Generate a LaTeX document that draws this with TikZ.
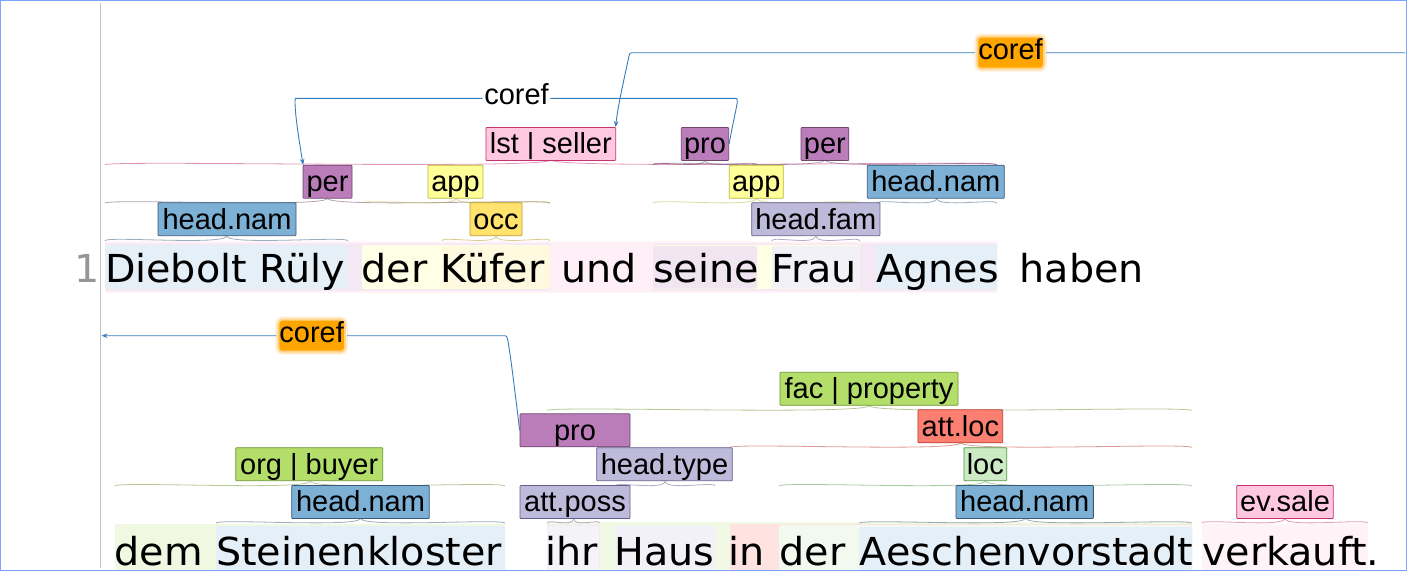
\documentclass[tikz,border=0pt]{standalone}
\usepackage{fontspec}
\setmainfont{DejaVu Sans}
\newfontfamily\wordfamily{DejaVu Sans}[FakeStretch=1.03]
\newfontfamily\labfamily{Liberation Sans}
\usetikzlibrary{arrows.meta}
\definecolor{perC}{RGB}{186,125,186}\definecolor{perD}{RGB}{110,70,110}
\definecolor{appC}{RGB}{255,255,153}\definecolor{appD}{RGB}{185,185,60}
\definecolor{occC}{RGB}{255,227,110}\definecolor{occD}{RGB}{185,155,40}
\definecolor{namC}{RGB}{125,176,213}\definecolor{namD}{RGB}{60,90,120}
\definecolor{famC}{RGB}{190,186,218}\definecolor{famD}{RGB}{100,95,140}
\definecolor{lstC}{RGB}{255,200,225}\definecolor{lstD}{RGB}{200,50,110}
\definecolor{orgC}{RGB}{179,222,105}\definecolor{orgD}{RGB}{110,150,50}
\definecolor{alocC}{RGB}{251,128,114}\definecolor{alocD}{RGB}{190,60,50}
\definecolor{locC}{RGB}{204,235,197}\definecolor{locD}{RGB}{80,150,70}
\definecolor{arcC}{RGB}{55,125,185}
\definecolor{orangeC}{RGB}{255,165,0}
\definecolor{borderC}{RGB}{125,165,255}
\definecolor{gridC}{RGB}{192,192,192}
\definecolor{numC}{RGB}{150,150,150}
\newcommand\wordfont{\wordfamily\fontsize{38.5}{44}\selectfont}
\newcommand\lblfont{\labfamily\fontsize{29}{32}\selectfont}
\newcommand\wordbg[5]{\fill[#5, rounded corners=2pt] (#1,#3) rectangle (#2,#4);}
\newcommand\spanbrace[4]{\draw[brace,#4] (#1,#3+1.5) .. controls (#1,#3-3.5) and ({(#1+#2)/2},#3+6.5) .. ({(#1+#2)/2},#3-3.5) .. controls ({(#1+#2)/2},#3+6.5) and (#2,#3-3.5) .. (#2,#3+1.5);}
\begin{document}
\begin{tikzpicture}[x=1pt,y=-1pt,
  word/.style={anchor=base west, inner sep=0pt, font=\wordfont},
  lowword/.style={word, text depth=0pt},
  lab/.style={draw, line width=0.8pt, inner sep=0pt, minimum height=33pt, text height=22.8pt, text depth=3.2pt, font=\lblfont, rounded corners=0.8pt},
  oranglab/.style={fill=orangeC, inner sep=0pt, minimum width=62pt, minimum height=30pt, rounded corners=3pt, text height=19.8pt, text depth=6.2pt, font=\lblfont,
    preaction={draw=orangeC, draw opacity=0.18, line width=8pt},
    preaction={draw=orangeC, draw opacity=0.35, line width=4pt}},
  plainlab/.style={inner sep=1.5pt, fill=white, text height=18.6pt, text depth=7.2pt, font=\lblfont},
  brace/.style={line width=0.8pt, draw opacity=0.5},
  arcline/.style={draw=arcC, line width=0.9pt},
  tip/.style={-{Stealth[length=6pt,width=4.5pt]}}]
\useasboundingbox (0,0) rectangle (1407,571);
\fill[white] (0,0) rectangle (1407,571);
% ---- word backgrounds, line 1
\wordbg{105}{997}{241.5}{292.5}{lstC!28}
\wordbg{105}{550}{243.5}{290.5}{perC!18}
\wordbg{653}{997}{243.5}{290.5}{perC!18}
\wordbg{362}{550}{245}{289}{appC!25}
\wordbg{105}{347}{245}{289}{namC!20}
\wordbg{653}{860}{245}{289}{appC!25}
\wordbg{653}{757}{246}{288.5}{perC!20}
\wordbg{442}{550}{246}{288.5}{occC!22}
\wordbg{772}{860}{246}{288.5}{famC!20}
\wordbg{876.5}{997}{245}{289}{namC!20}
% ---- word backgrounds, line 2
\wordbg{115}{505}{524}{571}{orgC!20}
\wordbg{216}{505}{526}{571}{namC!20}
\wordbg{547}{1192}{522}{571}{orgC!18}
\wordbg{547}{600}{524}{571}{perC!15}
\wordbg{548}{599}{526}{571}{famC!18}
\wordbg{615}{715}{526}{571}{famC!20}
\wordbg{730}{1192}{524}{571}{alocC!22}
\wordbg{779}{1192}{525}{571}{locC!25}
\wordbg{859}{1192}{527}{571}{namC!20}
\wordbg{1202}{1368}{524}{571}{lstC!22}
% ---- grey margin line
\draw[gridC, line width=1.5pt] (100.7,3) -- (100.7,568);
% ---- words line 1
\node[word, text=numC] (ln) at (74.5,282.7) {1};
\node[word] (w1) at (104.8,282.7) {Diebolt Rüly};
\node[word] (w2) at (361.5,282.7) {der};
\node[word] (w3) at (440.5,282.7) {Küfer};
\node[word] (w4) at (561.5,282.7) {und};
\node[word] (w5) at (653,282.7) {seine};
\node[word] (w6) at (771,282.7) {Frau};
\node[word] (w7) at (876,282.7) {Agnes};
\node[word] (w8) at (1019.5,282.7) {haben};
% ---- words line 2
\node[lowword] (v1) at (114.5,565.5) {dem};
\node[lowword] (v2) at (216,565.5) {Steinenkloster};
\node[lowword] (v3) at (545.5,565.5) {ihr};
\node[lowword] (v4) at (614,565.5) {Haus};
\node[lowword] (v5) at (728.5,565.5) {in};
\node[lowword] (v6) at (779.5,565.5) {der};
\node[lowword] (v7) at (859.5,565.5) {Aeschenvorstadt};
\node[lowword] (v8) at (1202,565.5) {verkauft.};
% ---- span braces line 1
\spanbrace{105}{348}{239.3}{namD}
\spanbrace{442}{550}{239.3}{occD}
\spanbrace{771.7}{860}{239.3}{famD}
\spanbrace{105}{550}{201.7}{perD}
\spanbrace{362}{550}{201.7}{appD}
\spanbrace{653}{860}{201.7}{appD}
\spanbrace{876.7}{996.7}{201.7}{namD}
\spanbrace{105}{997}{163.3}{lstD}
\spanbrace{653}{756.7}{163.3}{perD}
\spanbrace{653}{996.7}{163.3}{perD}
% ---- span braces line 2
\spanbrace{216}{505}{521.7}{namD}
\spanbrace{547.3}{600}{521.7}{famD}
\spanbrace{859.3}{1191.7}{521.7}{namD}
\spanbrace{1201.7}{1367.7}{521.7}{lstD}
\spanbrace{115}{505}{484.5}{orgD}
\spanbrace{615}{715}{484.5}{famD}
\spanbrace{779.3}{1191.7}{484.5}{locD}
\spanbrace{730}{1191.7}{446}{alocD}
\spanbrace{546.7}{1191.7}{409}{orgD}
% ---- labels line 1
\node[lab, fill=lstC, draw=lstD, minimum width=129.7pt] (lst) at (550.8,144) {lst | seller};
\node[lab, fill=perC, draw=perD, minimum width=47.4pt] (pro1) at (705,144) {pro};
\node[lab, fill=perC, draw=perD, minimum width=47.7pt] (per2) at (824.9,144) {per};
\node[lab, fill=perC, draw=perD, minimum width=49pt] (per1) at (327.5,181.7) {per};
\node[lab, fill=appC, draw=appD, minimum width=55pt] (app1) at (455.5,181.7) {app};
\node[lab, fill=appC, draw=appD, minimum width=54pt] (app2) at (756.3,181.7) {app};
\node[lab, fill=namC, draw=namD, minimum width=137pt] (nam2) at (935.8,181.7) {head.nam};
\node[lab, fill=namC, draw=namD, minimum width=138pt] (nam1) at (227,219.2) {head.nam};
\node[lab, fill=occC, draw=occD, minimum width=52pt] (occ) at (496,219.2) {occ};
\node[lab, fill=famC, draw=famD, minimum width=128.3pt] (fam) at (815.8,219.2) {head.fam};
% ---- labels line 2
\node[lab, fill=orgC, draw=orgD, minimum width=178pt] (fac) at (869,388.8) {fac | property};
\node[lab, fill=perC, draw=perD, minimum width=110pt] (pro2) at (575,430.3) {pro};
\node[lab, fill=alocC, draw=alocD, minimum width=84.7pt] (aloc) at (960.3,426.3) {att.loc};
\node[lab, fill=orgC, draw=orgD, minimum width=147pt] (org) at (309.2,464.2) {org | buyer};
\node[lab, fill=famC, draw=famD, minimum width=135.6pt] (htype) at (664.5,464.2) {head.type};
\node[lab, fill=locC, draw=locD, minimum width=42.7pt] (loc) at (985.3,464.2) {loc};
\node[lab, fill=namC, draw=namD, minimum width=137.6pt] (nam3) at (360.5,502) {head.nam};
\node[lab, fill=famC, draw=famD, minimum width=110pt] (aposs) at (575,502) {att.poss};
\node[lab, fill=namC, draw=namD, minimum width=137.3pt] (nam4) at (1024.7,502) {head.nam};
\node[lab, fill=lstC, draw=lstD, minimum width=96.6pt] (sale) at (1285,502) {ev.sale};
% ---- arc labels
\node[oranglab] (co1) at (1010.5,52.7) {coref};
\node[plainlab] (co2) at (516.5,98.3) {coref};
\node[oranglab] (co3) at (311.7,335.7) {coref};
\coordinate (edgeR) at (1405,52.7);
\coordinate (edgeL) at (101.5,335.7);
% ---- arcs
\draw[arcline, tip] (pro1.east) .. controls (733,122) and (737.3,105) .. (737.3,101.3) .. controls (737.3,98.3) .. (734.3,98.3) -- (co2.east)
  (co2.west) -- (298,98.3) .. controls (295,98.3) .. (295,101.3) .. controls (295,115) and (299,140) .. ([xshift=0.5pt]per1.north west);
\draw[arcline, tip] (edgeR) -- ([xshift=3pt]co1.east) ([xshift=-3pt]co1.west) -- (633,52.7) .. controls (630,52.7) .. (629,56) .. controls (625,75) and (618,105) .. ([xshift=-0.5pt]lst.north east);
\draw[arcline, tip] (pro2.west) .. controls (516,400) and (510,350) .. (507.5,339) .. controls (506.5,335.7) .. (503,335.7) -- ([xshift=3pt]co3.east) ([xshift=-3pt]co3.west) -- (edgeL);
% ---- frame
\draw[borderC, line width=1.2pt] (0.6,0.6) rectangle (1406.4,570.4);
\end{tikzpicture}
\end{document}
